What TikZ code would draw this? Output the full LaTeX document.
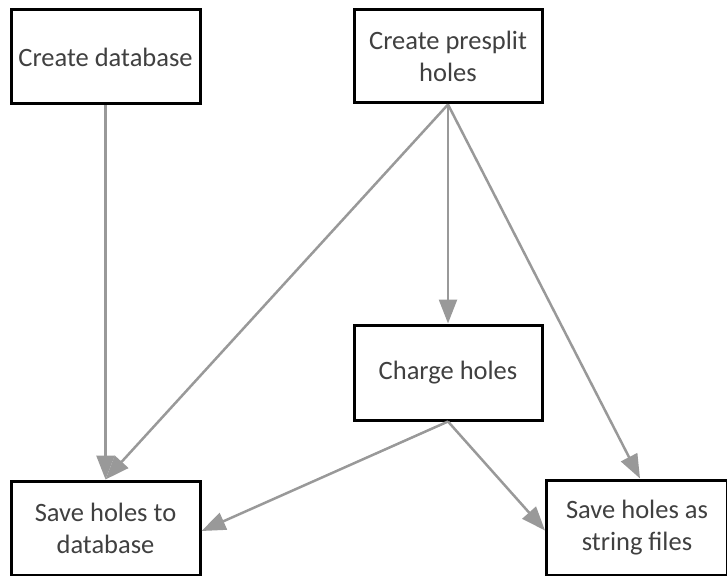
\documentclass[tikz,border=0pt]{standalone}
\usepackage{fontspec}
\setmainfont{Carlito}
\usetikzlibrary{arrows.meta}
\definecolor{txt}{HTML}{404040}
\definecolor{arr}{HTML}{999999}
\begin{document}
\begin{tikzpicture}[x=1pt,y=-1pt,
  box/.style={draw=black,line width=3pt,fill=white,align=center,text=txt,
    font=\fontsize{26.5}{32}\selectfont,inner sep=0pt},
  conn/.style={draw=arr,line width=2.5pt,-{Triangle[length=24pt,width=18pt]}}]
\useasboundingbox (0,0) rectangle (727,575);
\node[box,minimum width=189pt,minimum height=94pt] (cdb) at (105.5,57) {Create database};
\node[box,minimum width=188pt,minimum height=93pt] (cph) at (448,56.5) {Create presplit\\holes};
\node[box,minimum width=188pt,minimum height=95pt] (ch) at (448,372.5) {Charge holes};
\node[box,minimum width=189pt,minimum height=94pt] (sdb) at (105.5,528) {Save holes to\\database};
\node[box,minimum width=181pt,minimum height=95pt] (ssf) at (637,527.5) {Save holes as\\string files};
\draw[conn] (cdb.south) -- (sdb.north);
\draw[conn] (cph.south) -- (ch.north);
\draw[conn] (cph.south) -- (sdb.north);
\draw[conn] (cph.south) -- ([xshift=3pt]ssf.north);
\draw[conn] (ch.south) -- ([yshift=-3pt]sdb.east);
\draw[conn] (ch.south) -- ([yshift=-3pt]ssf.west);
\end{tikzpicture}
\end{document}
